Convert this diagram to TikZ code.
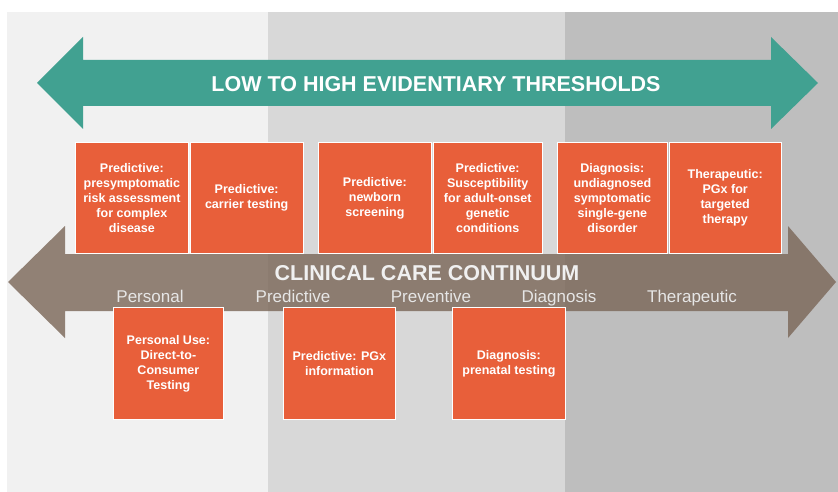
\documentclass[tikz,border=0pt]{standalone}
\usepackage{fontspec}
\setsansfont{Liberation Sans}
\usetikzlibrary{positioning}

\definecolor{panelA}{HTML}{F1F1F1}
\definecolor{panelB}{HTML}{D8D8D8}
\definecolor{panelC}{HTML}{BEBEBE}
\definecolor{evteal}{HTML}{41A191}
\definecolor{carebrown}{HTML}{7A6657}
\definecolor{boxorange}{HTML}{E85F3A}
\definecolor{stagegray}{HTML}{E6E6E6}

\tikzset{
  usebox/.style={fill=boxorange, draw=white, line width=0.8pt, text=white,
    font=\sffamily\bfseries\fontsize{12.5}{15}\selectfont, align=center,
    minimum width=113pt, minimum height=111pt, inner sep=0pt},
  stage/.style={text=stagegray, font=\sffamily\fontsize{17}{17}\selectfont, inner sep=0pt, anchor=base},
  bandtitle/.style={text=white, font=\sffamily\bfseries\fontsize{21.5}{21.5}\selectfont, inner sep=0pt}
}

\begin{document}
\begin{tikzpicture}[x=1pt, y=-1pt]
  \useasboundingbox (0,0) rectangle (838,492);
  \fill[white] (0,0) rectangle (838,492);
  % background panels
  \fill[panelA] (7,12) rectangle (268,492);
  \fill[panelB] (268,12) rectangle (565,492);
  \fill[panelC] (565,12) rectangle (838,492);

  % evidentiary thresholds arrow
  \fill[evteal] (37,83) -- (83,37) -- (83,60) -- (771,60) -- (771,37) -- (818,83)
    -- (771,129) -- (771,106) -- (83,106) -- (83,129) -- cycle;
  \node[bandtitle] (thresh) at (436,84) {LOW TO HIGH EVIDENTIARY THRESHOLDS};

  % clinical care continuum arrow
  \fill[carebrown, opacity=0.8] (8,282) -- (65,226) -- (65,254) -- (788,254) -- (788,226)
    -- (836,282) -- (788,338) -- (788,311) -- (65,311) -- (65,338) -- cycle;
  \node[bandtitle, text=white!94!black] (care) at (427,273) {CLINICAL CARE CONTINUUM};
  \node[stage] (personal) at (150,302) {Personal};
  \node[stage] (predictive) at (293,302) {Predictive};
  \node[stage] (preventive) at (431,302) {Preventive};
  \node[stage] (diagnosis) at (559,302) {Diagnosis};
  \node[stage] (therapeutic) at (692,302) {Therapeutic};

  % top row of uses
  \node[usebox, anchor=north west] (risk) at (75,142) {Predictive:\\presymptomatic\\risk assessment\\for complex\\disease};
  \node[usebox, right=1pt of risk] (carrier) {Predictive:\\carrier testing};
  \node[usebox, anchor=north west] (newborn) at (318,142) {Predictive:\\newborn\\screening};
  \node[usebox, right=1pt of newborn, minimum width=109pt] (adult) {Predictive:\\Susceptibility\\for adult-onset\\genetic\\conditions};
  \node[usebox, anchor=north west, minimum width=110pt] (singlegene) at (557,142) {Diagnosis:\\undiagnosed\\symptomatic\\single-gene\\disorder};
  \node[usebox, right=1pt of singlegene, minimum width=112pt] (pgxtherapy) {Therapeutic:\\PGx for\\targeted\\therapy};

  % bottom row of uses
  \node[usebox, anchor=north west, minimum width=110pt, minimum height=112pt] (dtc) at (113,307) {Personal Use:\\Direct-to-\\Consumer\\Testing};
  \node[usebox, anchor=north west, minimum width=112pt, minimum height=112pt] (pgxinfo) at (283,307) {Predictive: PGx\\information};
  \node[usebox, anchor=north west, minimum width=113pt, minimum height=112pt] (prenatal) at (452,307) {Diagnosis:\\prenatal testing};
\end{tikzpicture}
\end{document}
